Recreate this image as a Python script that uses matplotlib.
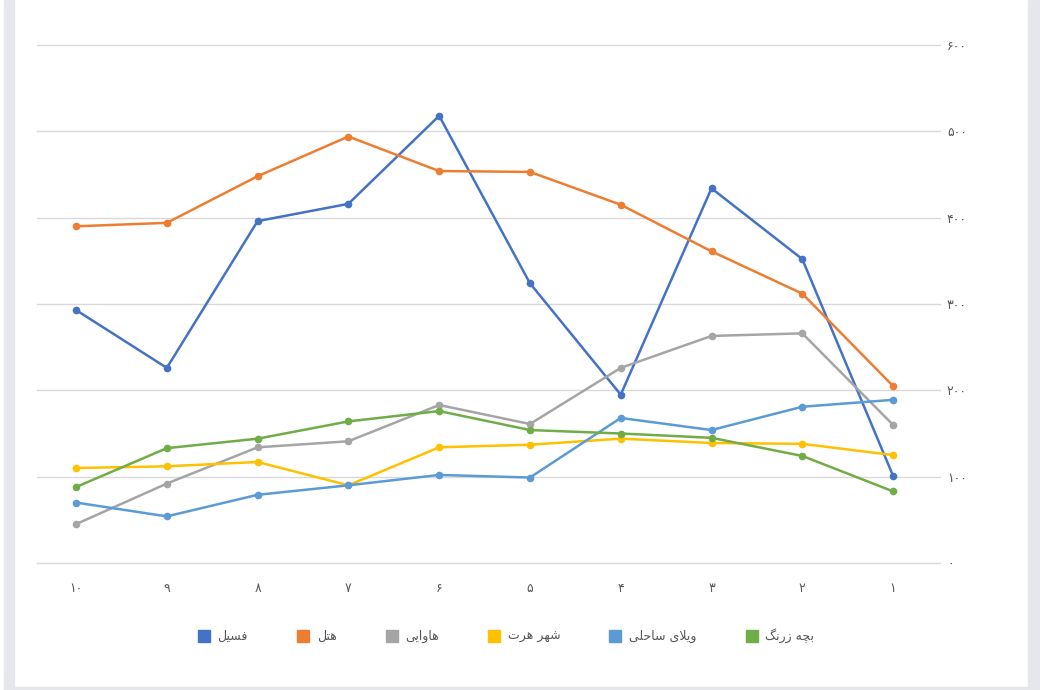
import matplotlib
matplotlib.use("Agg")
import matplotlib.pyplot as plt
from matplotlib.lines import Line2D
from matplotlib.patches import Rectangle

# categories (left to right as drawn) and series values
categories = ["۱۰", "۹", "۸", "۷", "۶", "۵", "۴", "۳", "۲", "۱"]
series_names = ["فسیل", "هتل", "هاوایی", "شهر هرت", "ویلای ساحلی", "بچه زرنگ"]
fossil = [293, 226, 396, 416, 518, 324, 195, 434, 352, 101]
hotel = [390, 394, 448, 494, 454, 453, 415, 361, 312, 205]
hawaii = [45, 92, 134, 141, 183, 161, 226, 263, 266, 160]
shahr_hert = [110, 112, 117, 90, 134, 137, 144, 139, 138, 125]
villa = [70, 54, 79, 90, 102, 99, 168, 154, 181, 189]
bache_zerang = [88, 133, 144, 164, 176, 154, 150, 145, 124, 83]
y_ticks = [0, 100, 200, 300, 400, 500, 600]
y_tick_labels = ["۰", "۱۰۰", "۲۰۰", "۳۰۰", "۴۰۰", "۵۰۰", "۶۰۰"]

colors = ["#4472C4", "#ED7D31", "#A5A5A5", "#FFC000", "#5B9BD5", "#70AD47"]

# matplotlib does no arabic shaping, so pick the joined glyph forms by hand
FORMS = {
    "ا": ("\uFE8D", "\uFE8E", None, None),
    "ب": ("\uFE8F", "\uFE90", "\uFE91", "\uFE92"),
    "ت": ("\uFE95", "\uFE96", "\uFE97", "\uFE98"),
    "ح": ("\uFEA1", "\uFEA2", "\uFEA3", "\uFEA4"),
    "ر": ("\uFEAD", "\uFEAE", None, None),
    "ز": ("\uFEAF", "\uFEB0", None, None),
    "س": ("\uFEB1", "\uFEB2", "\uFEB3", "\uFEB4"),
    "ش": ("\uFEB5", "\uFEB6", "\uFEB7", "\uFEB8"),
    "ف": ("\uFED1", "\uFED2", "\uFED3", "\uFED4"),
    "ل": ("\uFEDD", "\uFEDE", "\uFEDF", "\uFEE0"),
    "ن": ("\uFEE5", "\uFEE6", "\uFEE7", "\uFEE8"),
    "ه": ("\uFEE9", "\uFEEA", "\uFEEB", "\uFEEC"),
    "و": ("\uFEED", "\uFEEE", None, None),
    "ی": ("\uFBFC", "\uFBFD", "\uFBFE", "\uFBFF"),
    "چ": ("\uFB7A", "\uFB7B", "\uFB7C", "\uFB7D"),
    "گ": ("\uFB92", "\uFB93", "\uFB94", "\uFB95"),
}


def shape(word):
    out = []
    n = len(word)
    i = 0
    while i < n:
        c = word[i]
        if c not in FORMS:
            out.append(c)
            i += 1
            continue
        prev = word[i - 1] if i > 0 else None
        join_prev = prev in FORMS and FORMS[prev][2] is not None
        if c == "ل" and i + 1 < n and word[i + 1] == "ا":
            out.append("\uFEFC" if join_prev else "\uFEFB")
            i += 2
            continue
        nxt = word[i + 1] if i + 1 < n else None
        join_next = FORMS[c][2] is not None and nxt in FORMS
        iso, fin, ini, med = FORMS[c]
        if join_prev and join_next:
            out.append(med)
        elif join_prev:
            out.append(fin)
        elif join_next:
            out.append(ini)
        else:
            out.append(iso)
        i += 1
    return "".join(reversed(out))


plt.rcParams["font.family"] = ["DejaVu Sans"]

W, H = 1040, 690
fig = plt.figure(figsize=(W / 100, H / 100), dpi=100)

# gray frame around the white sheet
fig.patches.append(Rectangle((4 / W, 0), 10 / W, 1, transform=fig.transFigure,
                             color="#E6E7EA", zorder=0))
fig.patches.append(Rectangle((1028 / W, 0), 12 / W, 1, transform=fig.transFigure,
                             color="#E6E7EA", zorder=0))
fig.patches.append(Rectangle((4 / W, 0), 1036 / W, 3 / H, transform=fig.transFigure,
                             color="#E6E7EA", zorder=0))

ax = fig.add_axes([37 / W, (H - 563) / H, 903 / W, 518 / H])

all_series = [fossil, hotel, hawaii, shahr_hert, villa, bache_zerang]
x = list(range(len(categories)))
for vals, col in zip(all_series, colors):
    ax.plot(x, vals, color=col, lw=1.8, marker="o", markersize=4.5,
            solid_joinstyle="round", zorder=3)

ax.set_xlim(-0.43, 9.517)
ax.set_ylim(0, 600)
ax.set_xticks(x)
ax.set_xticklabels(categories)
ax.set_yticks(y_ticks)
ax.set_yticklabels(y_tick_labels)
ax.yaxis.tick_right()
ax.tick_params(axis="both", length=0, labelcolor="#595959", labelsize=9)
ax.tick_params(axis="x", pad=14)
ax.tick_params(axis="y", pad=5)
for lab in ax.get_yticklabels():
    lab.set_horizontalalignment("left")
ax.grid(axis="y", color="#D9D9D9", lw=1)
for gl in ax.get_ygridlines():
    gl.set_clip_on(False)
ax.set_axisbelow(True)
for s in ax.spines.values():
    s.set_visible(False)

handles = [Line2D([], [], ls="none", marker="s", markersize=8, color=c) for c in colors]
fig.legend(handles, [shape(s) for s in series_names], loc="center",
           bbox_to_anchor=(506 / W, 1 - 636 / H), ncol=6, frameon=False,
           fontsize=9, labelcolor="#595959", columnspacing=3.9,
           handletextpad=0.6, handlelength=1.0)

fig.savefig("out.png", dpi=100)
